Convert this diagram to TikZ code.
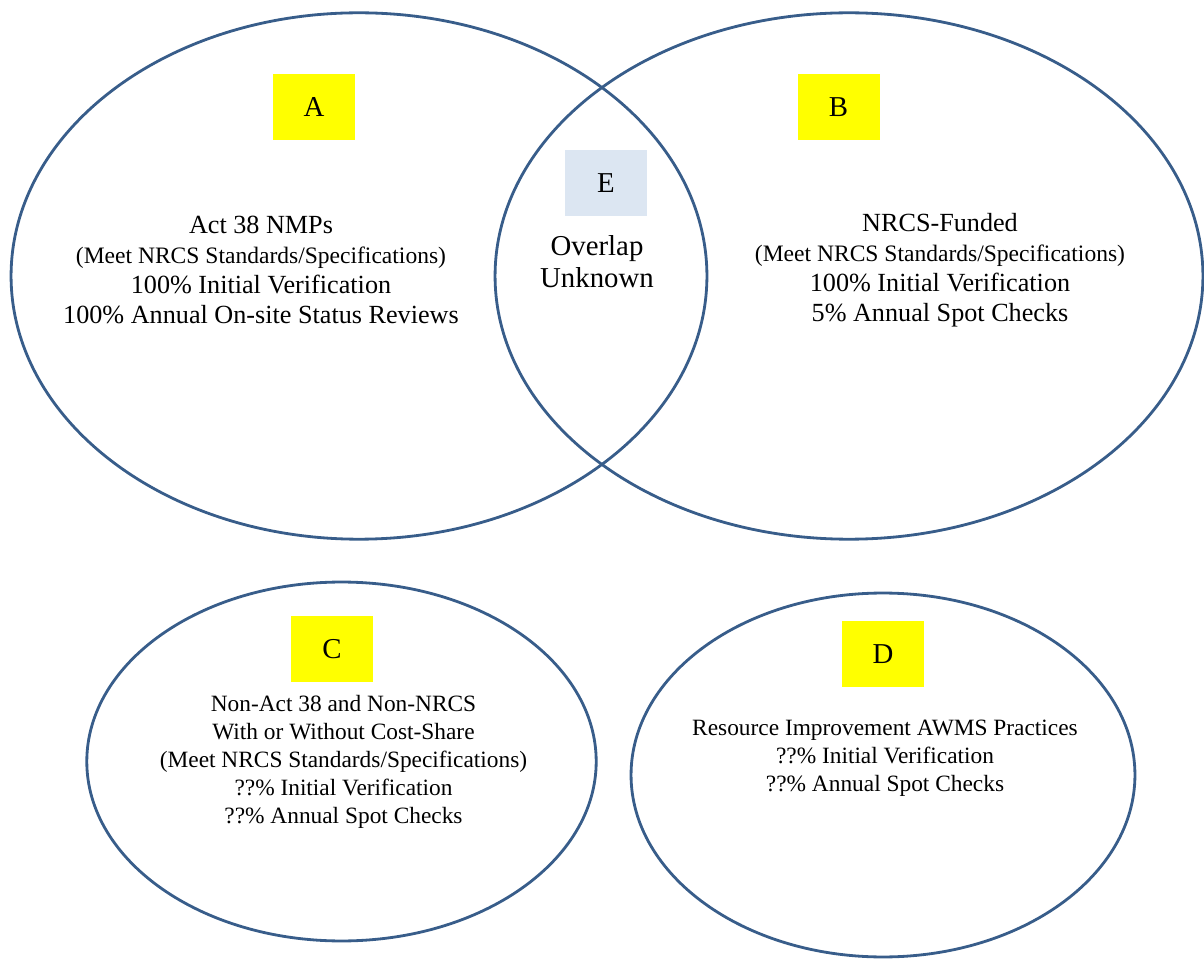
\documentclass[tikz,border=0pt]{standalone}
\usepackage{fontspec}
\setmainfont{Liberation Serif}
\usepackage{tikz}
\definecolor{setblue}{HTML}{385D8A}
\definecolor{tagyellow}{HTML}{FFFF00}
\definecolor{paleblue}{HTML}{DCE6F2}
\usetikzlibrary{shapes.geometric}
\tikzstyle{set} = [draw=setblue, line width=1.6pt, ellipse, inner sep=0pt]
\tikzstyle{tag} = [fill=tagyellow, rectangle, minimum width=1.64cm, minimum height=1.32cm, font=\fontsize{16.4}{18}\selectfont]
\tikzstyle{info} = [align=center, font=\fontsize{14.9}{17}\selectfont]
\tikzstyle{small} = [align=center, font=\fontsize{13.3}{15.9}\selectfont]

\begin{document}
\begin{tikzpicture}[x=0.02cm, y=-0.02cm]
    \useasboundingbox (0,0) rectangle (1204,959);

    % Place the sets
    \node [set, minimum width=13.92cm, minimum height=10.53cm] (setA) at (359,276) {};
    \node [set, minimum width=14.16cm, minimum height=10.53cm] (setB) at (849,276) {};
    \node [set, minimum width=10.19cm, minimum height=7.18cm] (setC) at (341.5,761.5) {};
    \node [set, minimum width=10.08cm, minimum height=7.28cm] (setD) at (883,775) {};

    % Place the labels
    \node [tag] (tagA) at (314,107) {A};
    \node [tag] (tagB) at (838.5,107) {B};
    \node [tag, fill=paleblue] (tagE) at (606,183) {E};
    \node [tag] (tagC) at (332,649) {C};
    \node [tag] (tagD) at (883,654) {D};

    % Place the texts
    \node [info] (textA) at (261,270) {Act 38 NMPs\\
        {\fontsize{13.4}{17}\selectfont (Meet NRCS Standards/Specifications)}\\
        100\% Initial Verification\\
        100\% Annual On-site Status Reviews};
    \node [info] (textB) at (940,270) {NRCS-Funded\\
        {\fontsize{13.4}{17}\selectfont (Meet NRCS Standards/Specifications)}\\
        100\% Initial Verification\\
        5\% Annual Spot Checks};
    \node [info, font=\fontsize{16.4}{18.1}\selectfont] (textE) at (597,262) {Overlap\\Unknown};
    \node [small] (textC) at (343.5,762) {Non-Act 38 and Non-NRCS\\
        With or Without Cost-Share\\
        (Meet NRCS Standards/Specifications)\\
        ??\% Initial Verification\\
        ??\% Annual Spot Checks};
    \node [small] (textD) at (885,758) {Resource Improvement AWMS Practices\\
        ??\% Initial Verification\\
        ??\% Annual Spot Checks};
\end{tikzpicture}
\end{document}
